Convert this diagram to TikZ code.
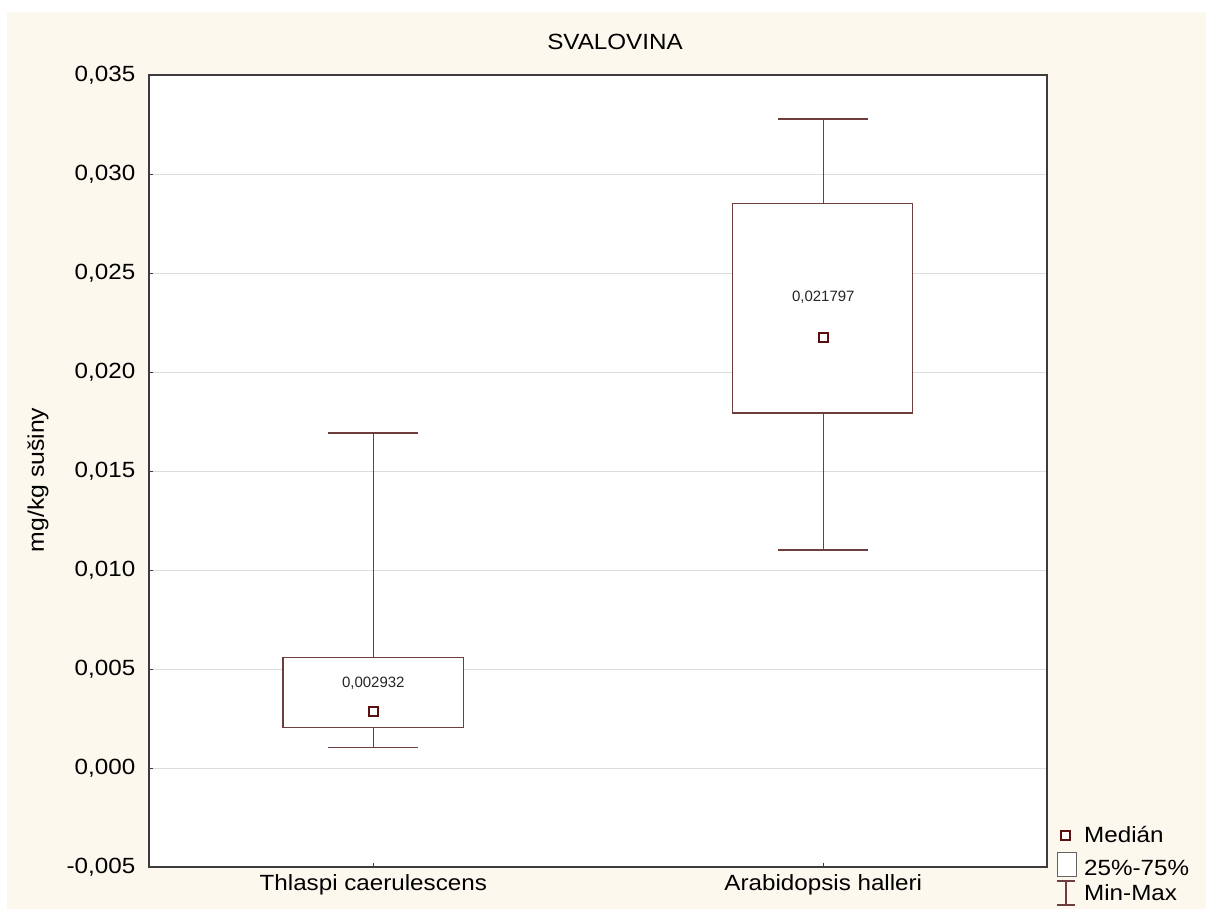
\documentclass[tikz,border=0pt]{standalone}
\usepackage{fontspec}
\setmainfont{Liberation Sans}[FakeStretch=1.1]
\newfontfamily\plainsans{Liberation Sans}
\newcommand\bigf{\fontsize{22bp}{26bp}\selectfont}
\newcommand\smallf{\plainsans\fontsize{15bp}{18bp}\selectfont}
\definecolor{cream}{HTML}{FCF8EE}
\definecolor{boxline}{HTML}{6E3E3E}
\definecolor{medline}{HTML}{5A1010}
\definecolor{gridc}{HTML}{DCDCDC}
\definecolor{framec}{HTML}{3C3C3C}
\tikzset{
  lbl/.style={inner sep=0pt, font=\bigf, text=black},
  vlbl/.style={inner sep=0pt, font=\smallf, text=black!85},
  boxst/.style={draw=boxline, line width=1.2bp, fill=white},
  whisk/.style={draw=boxline, line width=1.2bp},
  medst/.style={draw=medline, line width=2.2bp, fill=white, minimum size=9bp, inner sep=0pt, rectangle},
  gridst/.style={draw=gridc, line width=1bp},
  framest/.style={draw=framec, line width=1.3bp},
}
\begin{document}
\begin{tikzpicture}[x=1bp,y=-1bp]
\useasboundingbox (0,0) rectangle (1206,909);
\fill[white] (0,0) rectangle (1206,909);
\fill[cream] (7,12) rectangle (1206,909);
% plot area
\fill[white] (149,75) rectangle (1047,867);
% grid lines (values in thousandths)
\foreach \v in {30,25,20,15,10,5,0}{
  \draw[gridst] (149,{768.5-19.8*\v}) -- (1047,{768.5-19.8*\v});
  \draw[framest] (149,{768.5-19.8*\v}) -- (153,{768.5-19.8*\v});
}
\foreach \v/\t/\n in {35/{0,035}/a,30/{0,030}/b,25/{0,025}/c,20/{0,020}/d,15/{0,015}/e,10/{0,010}/f,5/{0,005}/g,0/{0,000}/h,-5/{-0,005}/i}{
  \node[lbl, anchor=east] (tick\n) at (135.5,{768.5-19.8*\v}) {\t};
}
% x ticks
\draw[framest] (373.3,867) -- (373.3,863);
\draw[framest] (823.3,867) -- (823.3,863);
% Thlaspi
\draw[whisk] (373.3,657.7) -- (373.3,433) (328,433) -- (418,433);
\draw[whisk] (373.3,727.7) -- (373.3,747.7) (328,747.7) -- (418,747.7);
\draw[boxst] (283,657.7) rectangle (463.5,727.7);
\node[medst] (med1) at (373.3,711.5) {};
\node[vlbl] (val1) at (373.3,683) {0,002932};
% Arabidopsis
\draw[whisk] (823.3,203.3) -- (823.3,119) (778,119) -- (868,119);
\draw[whisk] (823.3,413) -- (823.3,550) (778,550) -- (868,550);
\draw[boxst] (732.5,203.3) rectangle (912.7,413);
\node[medst] (med2) at (823.3,337.3) {};
\node[vlbl] (val2) at (823.3,297.5) {0,021797};
% frame
\draw[framest] (149,75) rectangle (1047,867);
% titles
\node[lbl] (title) at (615,42) {SVALOVINA};
\node[lbl, rotate=90, font=\fontsize{22.5bp}{26bp}\selectfont] (ylab) at (38,480) {mg/kg sušiny};
\node[lbl] (cat1) at (373.3,885) {Thlaspi caerulescens};
\node[lbl] (cat2) at (823.3,885) {Arabidopsis halleri};
% legend
\node[medst] (legmed) at (1065.5,835.5) {};
\draw[draw=framec!80, line width=1bp, fill=white] (1057,852) rectangle (1076.5,876.5);
\draw[whisk] (1057,881) -- (1075,881) (1066,881) -- (1066,905) (1057,905) -- (1075,905);
\node[lbl, anchor=west] (leg1) at (1084,834.5) {Medián};
\node[lbl, anchor=west] (leg2) at (1084,868) {25\%-75\%};
\node[lbl, anchor=west] (leg3) at (1084,893) {Min-Max};
\end{tikzpicture}
\end{document}
